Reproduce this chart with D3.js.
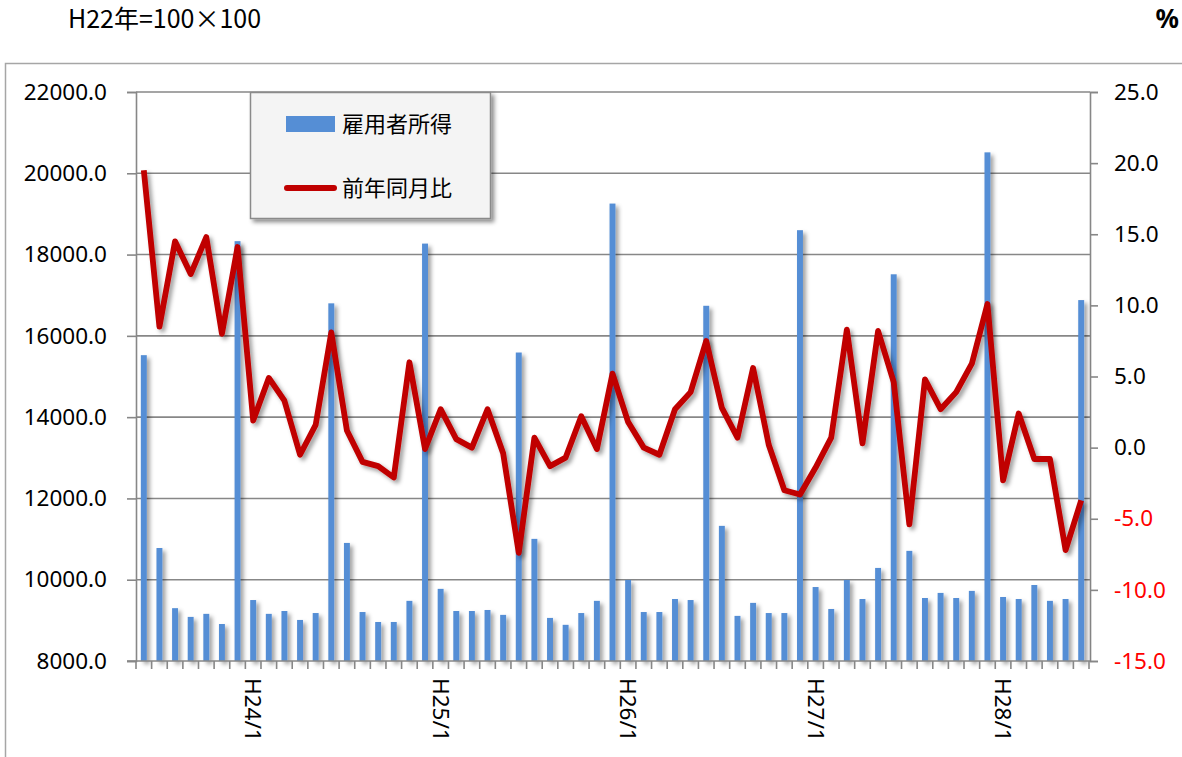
<!DOCTYPE html>
<html><head><meta charset="utf-8">
<script src="https://cdn.jsdelivr.net/npm/d3@7/dist/d3.min.js"></script>
<style>
html,body{margin:0;padding:0;background:#fff;}
svg{display:block;}
</style></head>
<body>
<svg id="chart" width="1182" height="757"></svg>
<script>
// ---- data ----
const categories = [
  "H23/6","H23/7","H23/8","H23/9","H23/10","H23/11","H23/12",
  "H24/1","H24/2","H24/3","H24/4","H24/5","H24/6","H24/7","H24/8","H24/9","H24/10","H24/11","H24/12",
  "H25/1","H25/2","H25/3","H25/4","H25/5","H25/6","H25/7","H25/8","H25/9","H25/10","H25/11","H25/12",
  "H26/1","H26/2","H26/3","H26/4","H26/5","H26/6","H26/7","H26/8","H26/9","H26/10","H26/11","H26/12",
  "H27/1","H27/2","H27/3","H27/4","H27/5","H27/6","H27/7","H27/8","H27/9","H27/10","H27/11","H27/12",
  "H28/1","H28/2","H28/3","H28/4","H28/5","H28/6"
];
const income = [
  15525,10780,9300,9085,9160,8910,18330,
  9500,9160,9230,9010,9180,16800,10905,9205,8960,8960,9480,18270,
  9775,9230,9230,9255,9135,15590,11005,9060,8890,9180,9480,19255,
  9995,9205,9205,9525,9500,16740,11325,9110,9430,9180,9180,18600,
  9820,9280,9995,9525,10290,17515,10710,9550,9675,9550,9725,20515,
  9575,9525,9870,9480,9525,16880
];
const yoy = [
  19.5,8.5,14.5,12.2,14.8,8.0,14.1,
  1.9,4.9,3.3,-0.5,1.6,8.1,1.2,-1.0,-1.3,-2.1,6.0,-0.1,
  2.7,0.6,0.0,2.7,-0.4,-7.4,0.7,-1.3,-0.7,2.2,-0.1,5.2,
  1.8,0.0,-0.5,2.7,3.9,7.5,2.8,0.7,5.6,0.2,-3.0,-3.3,
  -1.4,0.7,8.3,0.3,8.2,4.6,-5.4,4.8,2.7,3.9,5.9,10.1,
  -2.3,2.4,-0.8,-0.8,-7.2,-3.7
];
const zeroLine = categories.map(() => 0);
const leftTicks = [8000,10000,12000,14000,16000,18000,20000,22000];
const rightTicks = [-15,-10,-5,0,5,10,15,20,25];
const seriesNames = ["雇用者所得","前年同月比"];
const titleLeft = "H22年=100×100";
const titleRight = "%";

// ---- layout ----
const svg = d3.select("#chart");
const L = 136, R = 1090, T = 92, B = 661;
const numFont = "'Noto Sans', 'Open Sans', sans-serif";
const cjkFont = "'Noto Sans CJK JP', 'Noto Sans', sans-serif";

const defs = svg.append("defs");
const f = defs.append("filter").attr("id","sh").attr("x","-50%").attr("y","-10%").attr("width","200%").attr("height","130%");
f.append("feDropShadow").attr("dx",3).attr("dy",3).attr("stdDeviation",2)
  .attr("flood-color","#000").attr("flood-opacity",0.38);
const f2 = defs.append("filter").attr("id","lsh").attr("x","-10%").attr("y","-10%").attr("width","130%").attr("height","130%");
f2.append("feDropShadow").attr("dx",3).attr("dy",3).attr("stdDeviation",2)
  .attr("flood-color","#000").attr("flood-opacity",0.45);

// outer border
svg.append("rect").attr("x",5.5).attr("y",63.5).attr("width",1300).attr("height",900)
  .attr("fill","none").attr("stroke","#a6a6a6").attr("stroke-width",1.5);

// titles
svg.append("text").attr("x",68).attr("y",28).attr("font-family",cjkFont).attr("font-size",25)
  .attr("fill","#000").text(titleLeft);
svg.append("text").attr("x",1179).attr("y",28).attr("text-anchor","end").attr("font-family",numFont)
  .attr("font-size",26).attr("font-weight","bold").attr("fill","#000").text(titleRight);

const x = d3.scaleBand().domain(categories).range([L, 1089]).paddingInner(0.62).paddingOuter(0.31);
const yL = d3.scaleLinear().domain([8000,22000]).range([B,T]);
const yR = d3.scaleLinear().domain([-15,25]).range([B,T]);
const cx = c => x(c) + x.bandwidth()/2;

// gridlines
svg.append("g").selectAll("line").data(leftTicks.filter(v => v > 8000)).join("line")
  .attr("x1",L).attr("x2",R).attr("y1",d=>yL(d)).attr("y2",d=>yL(d))
  .attr("stroke","#878787").attr("stroke-width",1.6);

// left axis
const gL = svg.append("g").attr("transform",`translate(${L},0)`)
  .call(d3.axisLeft(yL).tickValues(leftTicks).tickSize(9).tickPadding(20).tickFormat(d=>d.toFixed(1)));
gL.select(".domain").attr("stroke","#878787").attr("stroke-width",1.6);
gL.selectAll(".tick line").attr("stroke","#878787").attr("stroke-width",1.6);
gL.selectAll(".tick text").attr("font-family",numFont).attr("font-size",22.5).attr("fill","#000");

// right axis
const gR = svg.append("g").attr("transform",`translate(${R},0)`)
  .call(d3.axisRight(yR).tickValues(rightTicks).tickSize(8).tickPadding(16).tickFormat(d=>d.toFixed(1)));
gR.select(".domain").attr("stroke","#878787").attr("stroke-width",1.6);
gR.selectAll(".tick line").attr("stroke","#878787").attr("stroke-width",1.6);
gR.selectAll(".tick text").attr("font-family",numFont).attr("font-size",22.5)
  .attr("fill",d => d < 0 ? "#ff0000" : "#000");

// bars
svg.append("g").attr("filter","url(#sh)").selectAll("rect").data(categories).join("rect")
  .attr("x",c=>x(c)).attr("width",x.bandwidth())
  .attr("y",(c,i)=>yL(income[i])).attr("height",(c,i)=>B - yL(income[i]))
  .attr("fill","#558ed5");

// x axis
const step = x.step();
const bounds = categories.map(c => cx(c) - step/2).concat([cx(categories[categories.length-1]) + step/2]);
const gX = svg.append("g");
gX.append("line").attr("x1",L-9).attr("x2",R).attr("y1",B).attr("y2",B)
  .attr("stroke","#878787").attr("stroke-width",1.6);
gX.selectAll("line.tk").data(bounds).join("line").attr("class","tk")
  .attr("x1",d=>d).attr("x2",d=>d).attr("y1",B).attr("y2",B+8)
  .attr("stroke","#878787").attr("stroke-width",1.6);
gX.selectAll("text").data(categories.filter(c => /\/1$/.test(c))).join("text")
  .attr("transform", c => `translate(${cx(c)},678) rotate(90)`)
  .attr("dy","0.35em").attr("font-family",numFont).attr("font-size",22.5).attr("fill","#000")
  .text(c => c);

// zero line
const line0 = d3.line().x((d,i)=>cx(categories[i])).y(d=>yR(d));
svg.append("path").datum(zeroLine).attr("d",line0).attr("fill","none")
  .attr("stroke","#1a1a1a").attr("stroke-width",3.2).attr("filter","url(#sh)");

// yoy line
svg.append("path").datum(yoy).attr("d",line0).attr("fill","none")
  .attr("stroke","#c00000").attr("stroke-width",5.8).attr("stroke-linejoin","round")
  .attr("filter","url(#sh)");

// legend
const lg = svg.append("g");
lg.append("rect").attr("x",250.5).attr("y",92.5).attr("width",240).attr("height",126)
  .attr("fill","#f4f4f4").attr("stroke","#8a8a8a").attr("stroke-width",1.5).attr("filter","url(#lsh)");
lg.append("rect").attr("x",286).attr("y",116).attr("width",49).attr("height",16).attr("fill","#558ed5");
lg.append("line").attr("x1",287).attr("x2",334).attr("y1",188).attr("y2",188)
  .attr("stroke","#c00000").attr("stroke-width",6).attr("stroke-linecap","round");
lg.append("text").attr("x",342).attr("y",124).attr("dy","0.35em").attr("font-family",cjkFont)
  .attr("font-size",22).attr("fill","#000").text(seriesNames[0]);
lg.append("text").attr("x",342).attr("y",188).attr("dy","0.35em").attr("font-family",cjkFont)
  .attr("font-size",22).attr("fill","#000").text(seriesNames[1]);
</script>
</body></html>
